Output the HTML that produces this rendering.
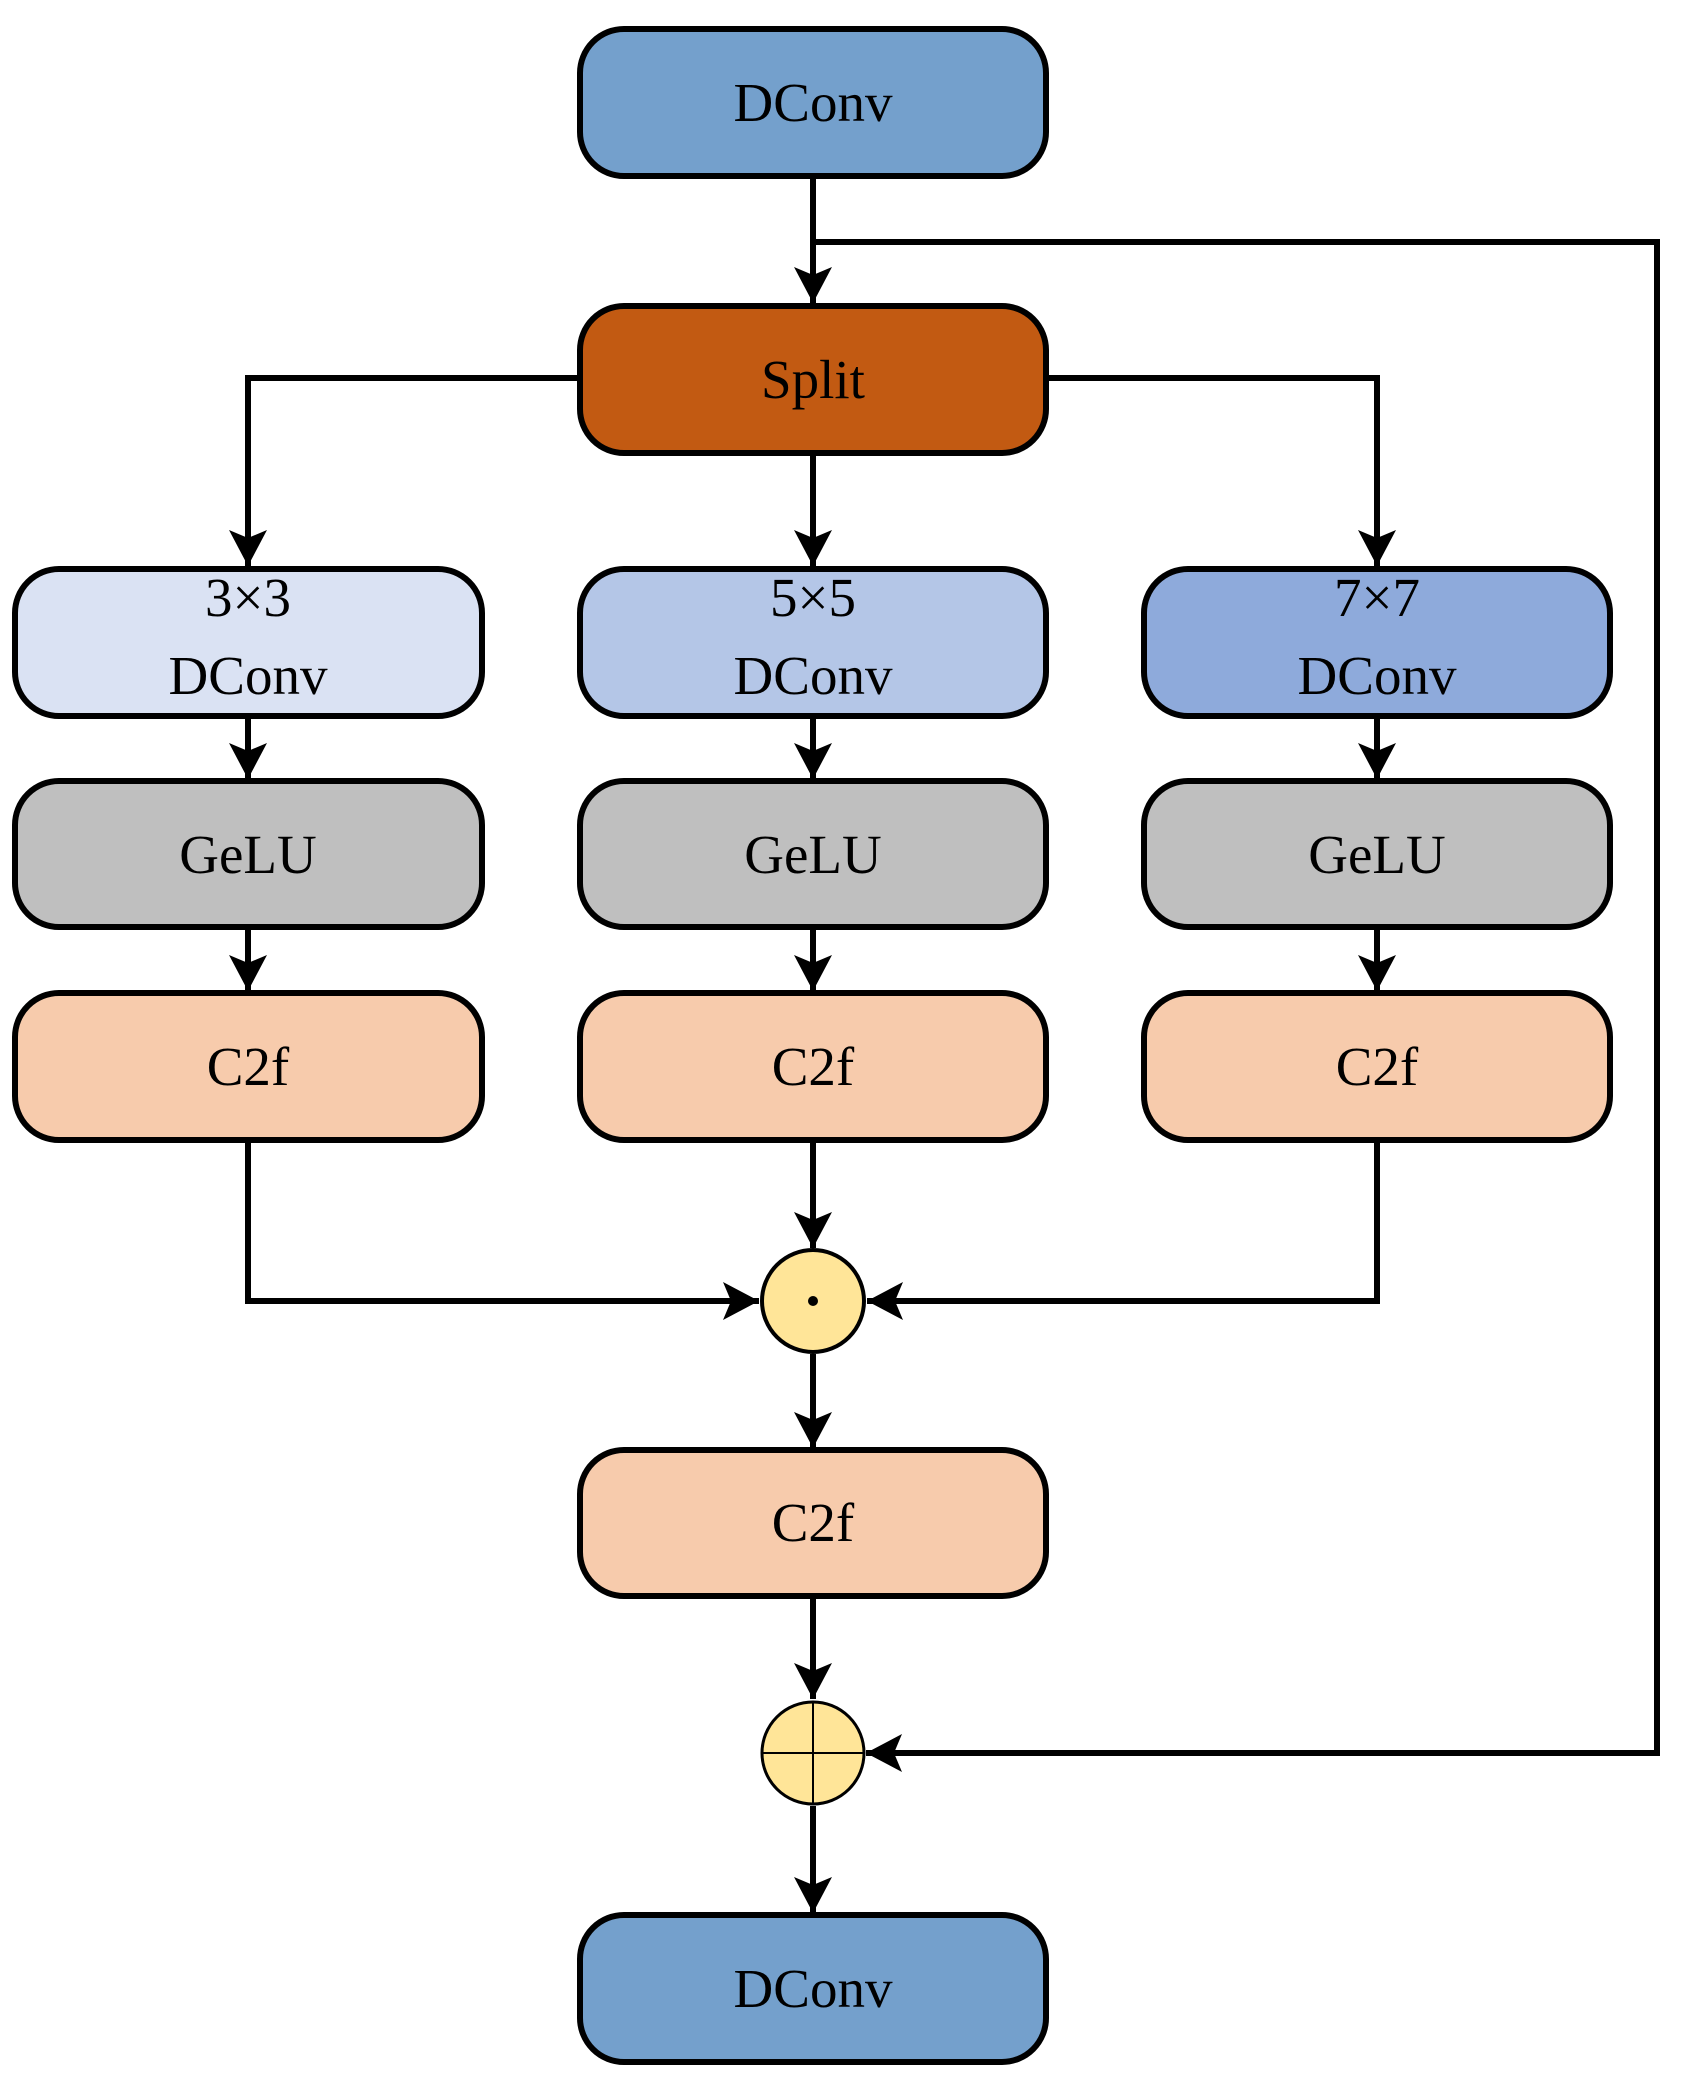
<!DOCTYPE html>
<html><head><meta charset="utf-8"><style>html,body{margin:0;padding:0;background:#fff}</style></head>
<body>
<svg width="1688" height="2091" viewBox="0 0 1688 2091" xmlns="http://www.w3.org/2000/svg" font-family="Liberation Serif, serif" font-size="55" text-anchor="middle">
<defs>
<marker id="a" markerWidth="38" markerHeight="38" refX="36" refY="19" orient="auto" markerUnits="userSpaceOnUse">
<path d="M0,0 L36,19 L0,38 L8,19 Z" fill="#000"/>
</marker>
</defs>
<g stroke="#000" stroke-width="6" fill="none">
<line x1="813" y1="177" x2="813" y2="303" marker-end="url(#a)"/>
<polyline points="813,242 1657,242 1657,1753 866,1753" marker-end="url(#a)"/>
<polyline points="580,378 248,378 248,566" marker-end="url(#a)"/>
<polyline points="1046,378 1377,378 1377,566" marker-end="url(#a)"/>
<line x1="813" y1="453" x2="813" y2="566" marker-end="url(#a)"/>
<line x1="248" y1="716" x2="248" y2="779" marker-end="url(#a)"/>
<line x1="813" y1="716" x2="813" y2="779" marker-end="url(#a)"/>
<line x1="1377" y1="716" x2="1377" y2="779" marker-end="url(#a)"/>
<line x1="248" y1="927" x2="248" y2="991" marker-end="url(#a)"/>
<line x1="813" y1="927" x2="813" y2="991" marker-end="url(#a)"/>
<line x1="1377" y1="927" x2="1377" y2="991" marker-end="url(#a)"/>
<line x1="813" y1="1140" x2="813" y2="1248" marker-end="url(#a)"/>
<polyline points="248,1140 248,1301 759,1301" marker-end="url(#a)"/>
<polyline points="1377,1140 1377,1301 867,1301" marker-end="url(#a)"/>
<line x1="813" y1="1354" x2="813" y2="1448" marker-end="url(#a)"/>
<line x1="813" y1="1596" x2="813" y2="1699" marker-end="url(#a)"/>
<line x1="813" y1="1806" x2="813" y2="1913" marker-end="url(#a)"/>
</g>
<g stroke="#000" stroke-width="6">
<rect x="580" y="29" width="466" height="147" rx="44" fill="#74a0cc"/>
<rect x="580" y="306" width="466" height="147" rx="44" fill="#c25a12"/>
<rect x="15" y="569" width="467" height="147" rx="44" fill="#dae2f3"/>
<rect x="580" y="569" width="466" height="147" rx="44" fill="#b4c6e7"/>
<rect x="1144" y="569" width="466" height="147" rx="44" fill="#8eaadb"/>
<rect x="15" y="781" width="467" height="146" rx="44" fill="#bfbfbf"/>
<rect x="580" y="781" width="466" height="146" rx="44" fill="#bfbfbf"/>
<rect x="1144" y="781" width="466" height="146" rx="44" fill="#bfbfbf"/>
<rect x="15" y="993" width="467" height="147" rx="44" fill="#f7cbac"/>
<rect x="580" y="993" width="466" height="147" rx="44" fill="#f7cbac"/>
<rect x="1144" y="993" width="466" height="147" rx="44" fill="#f7cbac"/>
<rect x="580" y="1450" width="466" height="146" rx="44" fill="#f7cbac"/>
<rect x="580" y="1915" width="466" height="147" rx="44" fill="#74a0cc"/>
<circle cx="813" cy="1301" r="51" fill="#ffe598" stroke-width="4"/>
<circle cx="813" cy="1753" r="51" fill="#ffe598" stroke-width="3"/>
</g>
<circle cx="813" cy="1301" r="5" fill="#000"/>
<g stroke="#000" stroke-width="2"><line x1="813" y1="1702" x2="813" y2="1804"/><line x1="762" y1="1753" x2="864" y2="1753"/></g>
<g fill="#000">
<text x="813" y="121">DConv</text>
<text x="813" y="398">Split</text>
<text x="248" y="616">3×3</text><text x="248" y="694">DConv</text>
<text x="813" y="616">5×5</text><text x="813" y="694">DConv</text>
<text x="1377" y="616">7×7</text><text x="1377" y="694">DConv</text>
<text x="248" y="873">GeLU</text><text x="813" y="873">GeLU</text><text x="1377" y="873">GeLU</text>
<text x="248" y="1085">C2f</text><text x="813" y="1085">C2f</text><text x="1377" y="1085">C2f</text>
<text x="813" y="1541">C2f</text>
<text x="813" y="2007">DConv</text>
</g>
</svg>
</body></html>
